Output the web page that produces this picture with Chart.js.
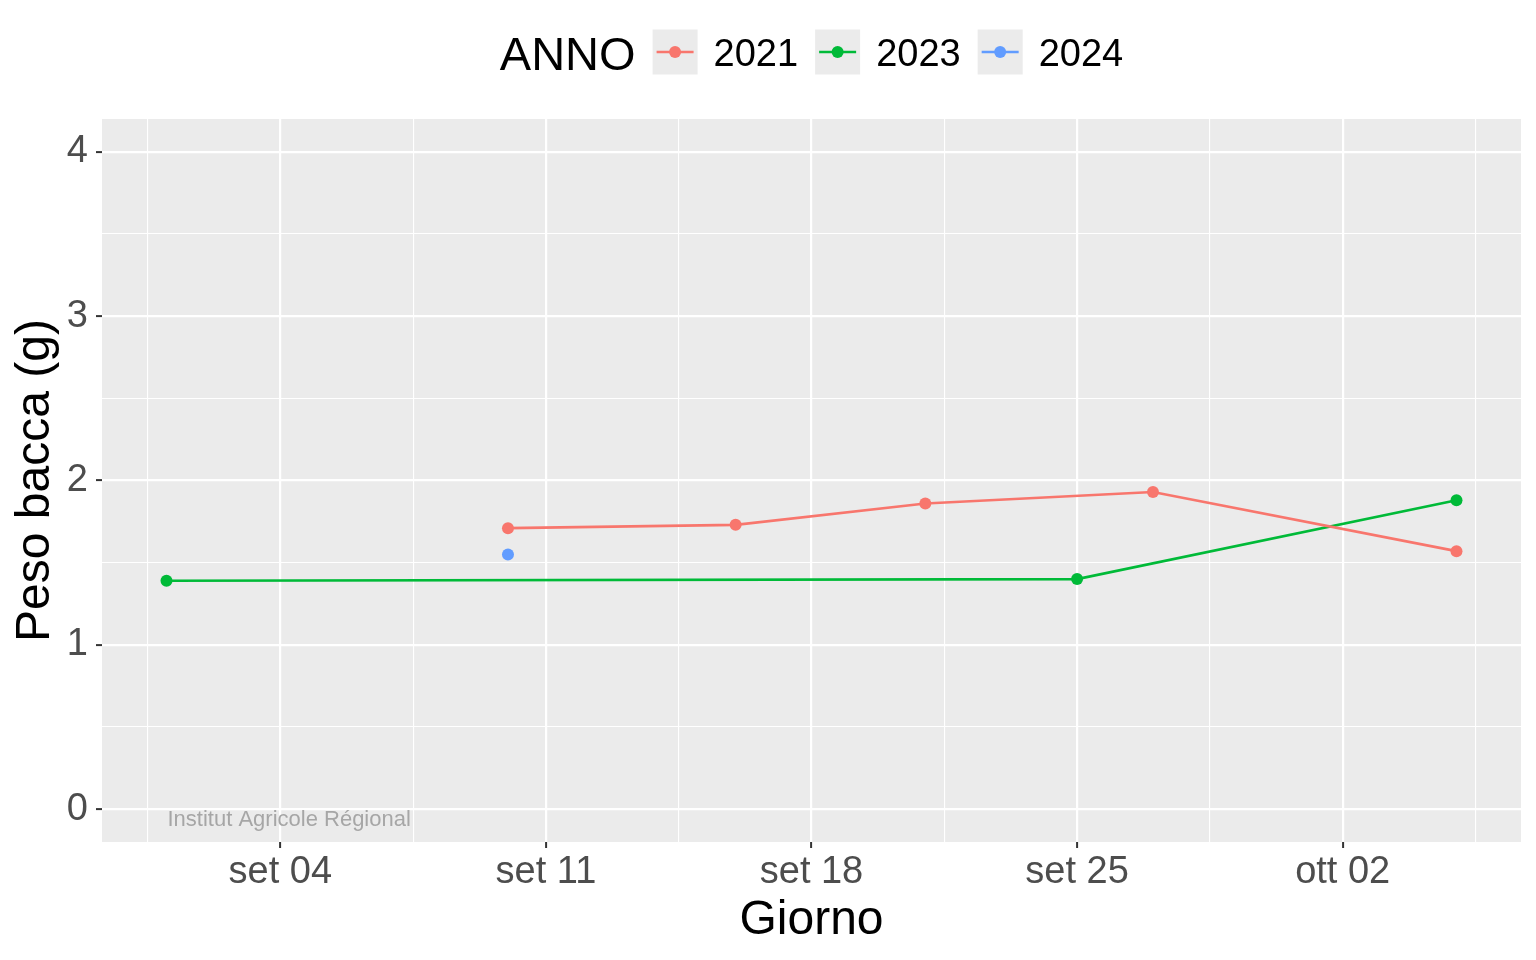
<!DOCTYPE html>
<html>
<head>
<meta charset="utf-8">
<script src="https://cdn.jsdelivr.net/npm/chart.js@4/dist/chart.umd.min.js"></script>
<style>
  body { margin: 0; background: #fff; }
</style>
</head>
<body>
<canvas id="peso-chart" width="1536" height="960"></canvas>
<script>
// days counted from 1 September (32 = 2 ottobre, 35 = 5 ottobre)
const anni = ['2021', '2023', '2024']
const colori = ['#F8766D', '#00BA38', '#619CFF']

const giorni2021 = [10, 16, 21, 27, 35]
const peso2021 = [1.71, 1.73, 1.86, 1.93, 1.57]

const giorni2023 = [1, 25, 35]
const peso2023 = [1.39, 1.40, 1.88]

const giorni2024 = [10]
const peso2024 = [1.55]

const xTickVals = [4, 11, 18, 25, 32]
const xTickLabels = ['set 04', 'set 11', 'set 18', 'set 25', 'ott 02']
const yTickVals = [0, 1, 2, 3, 4]

const FONT = '"Liberation Sans", Arial, Helvetica, sans-serif'

// minor gridlines sit half-way between major ones
const xGrid = [xTickVals[0] - 3.5, ...xTickVals.map(v => v + 3.5)].concat(xTickVals).sort((a, b) => a - b)
const yGrid = [...yTickVals, ...yTickVals.slice(1).map(v => v - 0.5)].sort((a, b) => a - b)

const toPoints = (xs, ys) => xs.map((x, i) => ({ x: x, y: ys[i] }))
const serie = [
    toPoints(giorni2021, peso2021),
    toPoints(giorni2023, peso2023),
    toPoints(giorni2024, peso2024),
]

const panelBg = {
    id: 'panelBg',
    beforeDraw(chart) {
        const { ctx, chartArea: a } = chart
        ctx.save()
        ctx.fillStyle = '#EBEBEB'
        ctx.fillRect(a.left, a.top, a.right - a.left, a.bottom - a.top)
        ctx.restore()
    }
}

const extras = {
    id: 'extras',
    afterDraw(chart) {
        const { ctx, chartArea: a, scales } = chart

        // watermark
        ctx.save()
        ctx.font = '22px ' + FONT
        ctx.fillStyle = '#A6A6A6'
        ctx.textAlign = 'left'
        ctx.textBaseline = 'middle'
        ctx.fillText('Institut Agricole Régional', scales.x.getPixelForValue(1) + 1, scales.y.getPixelForValue(-0.065))
        ctx.restore()

        // legend: ANNO + keys
        ctx.save()
        ctx.font = '47px ' + FONT
        const titleW = ctx.measureText('ANNO').width
        ctx.font = '38px ' + FONT
        const labelW = anni.map(t => ctx.measureText(t).width)
        const key = 45
        const total = titleW + anni.length * (17 + key + 16) + labelW.reduce((s, w) => s + w, 0)
        let x = (a.left + a.right) / 2 - total / 2
        const cy = 52

        ctx.fillStyle = '#000'
        ctx.textAlign = 'left'
        ctx.textBaseline = 'alphabetic'
        ctx.font = '47px ' + FONT
        ctx.fillText('ANNO', x, cy + 17.5)
        x += titleW

        anni.forEach((t, i) => {
            x += 17
            ctx.fillStyle = '#EBEBEB'
            ctx.fillRect(x, cy - key / 2, key, key)
            ctx.strokeStyle = colori[i]
            ctx.lineWidth = 2.7
            ctx.beginPath()
            ctx.moveTo(x + 4, cy)
            ctx.lineTo(x + key - 4, cy)
            ctx.stroke()
            ctx.fillStyle = colori[i]
            ctx.beginPath()
            ctx.arc(x + key / 2, cy, 6, 0, Math.PI * 2)
            ctx.fill()
            x += key + 16
            ctx.fillStyle = '#000'
            ctx.font = '38px ' + FONT
            ctx.fillText(t, x, cy + 13.6)
            x += labelW[i]
        })
        ctx.restore()
    }
}

const isMajorX = ctx => ctx.tick && xTickVals.includes(ctx.tick.value)
const isMajorY = ctx => ctx.tick && yTickVals.includes(ctx.tick.value)

new Chart('peso-chart', {
    type: 'line',
    data: {
        datasets: anni.map((anno, i) => ({
            label: anno,
            data: serie[i],
            borderColor: colori[i],
            backgroundColor: colori[i],
            pointBackgroundColor: colori[i],
            borderWidth: 2.7,
            pointRadius: 6,
            pointBorderWidth: 0,
            tension: 0,
            fill: false
        }))
    },
    options: {
        responsive: false,
        animation: false,
        devicePixelRatio: 1,
        layout: { padding: { top: 119, right: 15, bottom: 0, left: 0 } },
        plugins: {
            legend: { display: false },
            tooltip: { enabled: false }
        },
        scales: {
            x: {
                type: 'linear',
                min: -0.7,
                max: 36.7,
                afterBuildTicks: s => { s.ticks = xGrid.map(v => ({ value: v })) },
                afterFit: s => { s.height = 118 },
                ticks: {
                    autoSkip: false,
                    maxRotation: 0,
                    padding: 2,
                    color: '#4D4D4D',
                    font: { family: FONT, size: 38 },
                    callback: v => {
                        const i = xTickVals.indexOf(v)
                        return i >= 0 ? xTickLabels[i] : ''
                    }
                },
                grid: {
                    color: '#FFFFFF',
                    lineWidth: ctx => isMajorX(ctx) ? 2.2 : 1.1,
                    tickLength: 6,
                    tickWidth: 2,
                    tickColor: ctx => isMajorX(ctx) ? '#333333' : 'rgba(0,0,0,0)'
                },
                border: { display: false },
                title: {
                    display: true,
                    text: 'Giorno',
                    color: '#000',
                    font: { family: FONT, size: 48 },
                    padding: { top: 0, bottom: 10 }
                }
            },
            y: {
                type: 'linear',
                min: -0.2,
                max: 4.2,
                afterBuildTicks: s => { s.ticks = yGrid.map(v => ({ value: v })) },
                afterFit: s => { s.width = 102 },
                ticks: {
                    autoSkip: false,
                    padding: 8,
                    color: '#4D4D4D',
                    font: { family: FONT, size: 38 },
                    callback: v => yTickVals.includes(v) ? String(v) : ''
                },
                grid: {
                    color: '#FFFFFF',
                    lineWidth: ctx => isMajorY(ctx) ? 2.2 : 1.1,
                    tickLength: 6,
                    tickWidth: 2,
                    tickColor: ctx => isMajorY(ctx) ? '#333333' : 'rgba(0,0,0,0)'
                },
                border: { display: false },
                title: {
                    display: true,
                    text: 'Peso bacca (g)',
                    color: '#000',
                    font: { family: FONT, size: 48 },
                    padding: { top: 7, bottom: 0 }
                }
            }
        }
    },
    plugins: [panelBg, extras]
})
</script>
</body>
</html>
